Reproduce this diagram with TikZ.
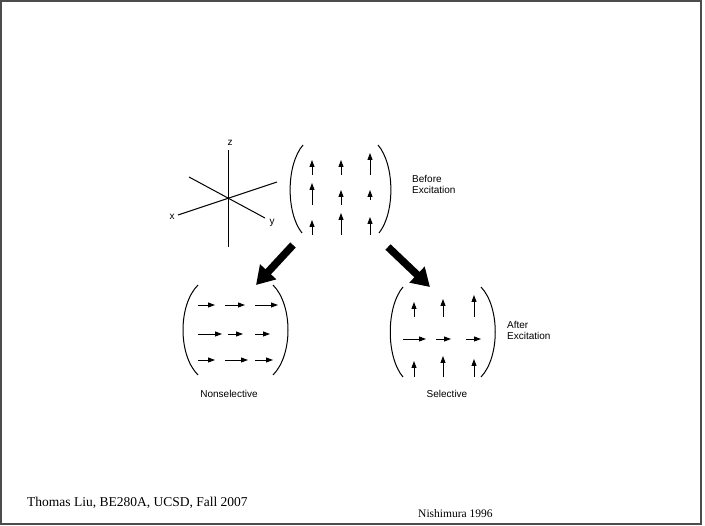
\documentclass[tikz,border=0pt]{standalone}
\usepackage{fontspec}
\setmainfont{Liberation Serif}
\newfontfamily\helv{Liberation Sans}
\usetikzlibrary{arrows.meta}
\tikzset{
  lbl/.style={inner sep=0pt, font=\helv\fontsize{10}{11}\selectfont},
  spin/.style={line width=0.9pt, -{Triangle[length=7pt,width=5pt]}},
  paren/.style={line width=1pt},
  axis/.style={line width=1pt},
  bigarrow/.style={line width=7.5pt, -{Triangle[length=18pt,width=21pt]}},
  frame/.style={draw=black!70, line width=1.5pt},
}
\begin{document}
\begin{tikzpicture}[x=1pt,y=-1pt]
\useasboundingbox (0,0) rectangle (705,526);
\draw[frame] (1,1) rectangle (701,524);

% axes
\coordinate (o) at (228,198);
\draw[axis] (228,150) -- (228,247);
\draw[axis] (189,177) -- (265,218);
\draw[axis] (178,215) -- (277,182);
\node[lbl] (zl) at (230,143) {z};
\node[lbl] (xl) at (172,217) {x};
\node[lbl] (yl) at (272,223) {y};

% top matrix
\draw[paren] (303,145) .. controls (286,165) and (286,213) .. (302,233);
\draw[paren] (378,145) .. controls (395,165) and (395,213) .. (379,233);
\draw[spin] (312,175) -- (312,160);
\draw[spin] (341,175) -- (341,160);
\draw[spin] (370,175) -- (370,153);
\draw[spin] (312,205) -- (312,183);
\draw[spin] (341,205) -- (341,190);
\draw[spin] (370,200) -- (370,190);
\draw[spin] (312,235) -- (312,220);
\draw[spin] (341,235) -- (341,213);
\draw[spin] (370,235) -- (370,217);
\node[lbl, anchor=west, align=left] (before) at (412,184.5) {Before\\Excitation};

% big arrows
\coordinate (la) at (293,245);
\coordinate (lb) at (256,285);
\coordinate (ra) at (388,247);
\coordinate (rb) at (430,287);
\draw[bigarrow] (la) -- (lb);
\draw[bigarrow] (ra) -- (rb);

% bottom-left matrix
\draw[paren] (198,285) .. controls (178,305) and (178,355) .. (198,375);
\draw[paren] (273,285) .. controls (293,305) and (293,355) .. (273,375);
\draw[spin] (198,305) -- (215,305);
\draw[spin] (225,305) -- (245,305);
\draw[spin] (255,305) -- (278,305);
\draw[spin] (198,334) -- (222,334);
\draw[spin] (228,334) -- (243,334);
\draw[spin] (255,334) -- (270,334);
\draw[spin] (198,360) -- (215,360);
\draw[spin] (225,360) -- (248,360);
\draw[spin] (255,360) -- (273,360);
\node[lbl] (nonsel) at (229,394) {Nonselective};

% bottom-right matrix
\draw[paren] (403,287) .. controls (386,307) and (386,357) .. (403,377);
\draw[paren] (481,287) .. controls (500,307) and (500,357) .. (481,377);
\draw[spin] (414,317) -- (414,302);
\draw[spin] (443,317) -- (443,299);
\draw[spin] (474,317) -- (474,295);
\draw[spin] (403,339) -- (426,339);
\draw[spin] (436,339) -- (451,339);
\draw[spin] (466,339) -- (481,339);
\draw[spin] (414,377) -- (414,361);
\draw[spin] (443,377) -- (443,356);
\draw[spin] (474,377) -- (474,359);
\node[lbl, anchor=west, align=left] (after) at (507,330) {After\\Excitation};
\node[lbl] (sel) at (447,394) {Selective};

% footer
\node[inner sep=0pt, anchor=base west, font=\fontsize{13.5}{15}\selectfont] (credit) at (27,507) {Thomas Liu, BE280A, UCSD, Fall 2007};
\node[inner sep=0pt, anchor=base west, font=\fontsize{11.5}{13}\selectfont] (cite) at (418,518) {Nishimura 1996};
\end{tikzpicture}
\end{document}
